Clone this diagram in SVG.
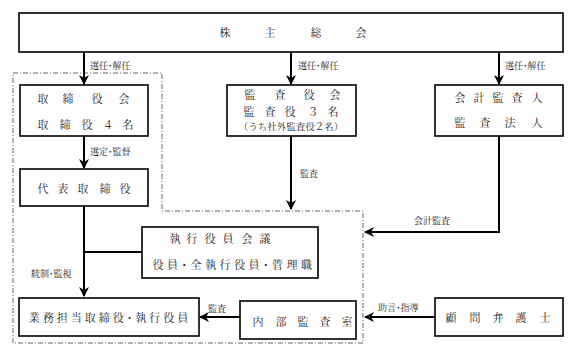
<svg xmlns="http://www.w3.org/2000/svg" width="578" height="359" viewBox="0 0 578 359">
<style>
.box{fill:#fff;stroke:#000;stroke-width:1.6}
.t{font-family:"Noto Serif CJK JP","Noto Sans CJK JP",serif;font-size:11px;fill:#222;text-anchor:middle}
.s{font-family:"Noto Serif CJK JP","Noto Sans CJK JP",serif;font-size:9px;fill:#222}
.c{fill:none;stroke:#000;stroke-width:2}
.b{fill:none;stroke:#666;stroke-width:1;stroke-dasharray:5 2 1 2}
</style>
<defs>
<marker id="ah" viewBox="0 0 10 10" refX="9" refY="5" markerWidth="5" markerHeight="5" orient="auto" markerUnits="strokeWidth">
<path d="M0,0 L10,5 L0,10 L3,5 Z" fill="#000"/>
</marker>
</defs>
<rect width="578" height="359" fill="#fff"/>
<path class="b" d="M13,73 H162 V211 H363 V343 H13 Z"/>
<g id="connectors">
<path class="c" d="M84,52 V84" marker-end="url(#ah)"/>
<path class="c" d="M291,52 V84" marker-end="url(#ah)"/>
<path class="c" d="M499,52 V84" marker-end="url(#ah)"/>
<path class="c" d="M84,136 V168" marker-end="url(#ah)"/>
<path class="c" d="M84,206 V296" marker-end="url(#ah)"/>
<path class="c" d="M84,252 H142"/>
<path class="c" d="M291,136 V209" marker-end="url(#ah)"/>
<path class="c" d="M499,136 V232 H365" marker-end="url(#ah)"/>
<path class="c" d="M240,317 H200" marker-end="url(#ah)"/>
<path class="c" d="M435,317 H365" marker-end="url(#ah)"/>
<text class="s" x="90" y="69">選任･解任</text>
<text class="s" x="298" y="69">選任･解任</text>
<text class="s" x="505" y="69">選任･解任</text>
<text class="s" x="90" y="155">選定･監督</text>
<text class="s" x="31" y="277">統制･監視</text>
<text class="s" x="300" y="177">監査</text>
<text class="s" x="414" y="224">会計監査</text>
<text class="s" x="208" y="312">監査</text>
<text class="s" x="378" y="311">助言･指導</text>
</g>
<g id="kabunushi">
<rect class="box" x="19" y="13" width="544" height="39"/>
<text class="t" x="225 270 316 361" y="37">株主総会</text>
</g>
<g id="torishimariyakukai">
<rect class="box" x="20" y="85" width="128" height="51"/>
<text class="t" x="43 68 97 124" y="103">取締役会</text>
<text class="t" x="43 65 87 108 128" y="129">取締役４名</text>
</g>
<g id="daihyo">
<rect class="box" x="20" y="169" width="128" height="37"/>
<text class="t" x="43 63 83 105 125" y="193">代表取締役</text>
</g>
<g id="kansayakukai">
<rect class="box" x="227" y="85" width="129" height="51"/>
<text class="t" x="250 280 309 335" y="99">監査役会</text>
<text class="t" x="249 270 290 313 333" y="116">監査役３名</text>
<text class="t" style="font-size:9.5px" x="291" y="130">（うち社外監査役２名）</text>
</g>
<g id="kaikei">
<rect class="box" x="435" y="85" width="128" height="51"/>
<text class="t" x="460 479 498 517 537" y="102">会計監査人</text>
<text class="t" x="460 485 510 537" y="127">監査法人</text>
</g>
<g id="shikko">
<rect class="box" x="142" y="227" width="176" height="51"/>
<text class="t" x="175 192 210 228 247 265" y="243">執行役員会議</text>
<text class="t" x="234" y="269" style="letter-spacing:3.5px">役員･全執行役員･管理職</text>
</g>
<g id="gyomu">
<rect class="box" x="19" y="298" width="180" height="38"/>
<text class="t" x="110" y="322" style="letter-spacing:3px">業務担当取締役･執行役員</text>
</g>
<g id="naibu">
<rect class="box" x="240" y="301" width="116" height="38"/>
<text class="t" x="258 281 303 325 347" y="326">内部監査室</text>
</g>
<g id="komon">
<rect class="box" x="435" y="298" width="128" height="38"/>
<text class="t" x="451 475 498 521 545" y="322">顧問弁護士</text>
</g>
</svg>
